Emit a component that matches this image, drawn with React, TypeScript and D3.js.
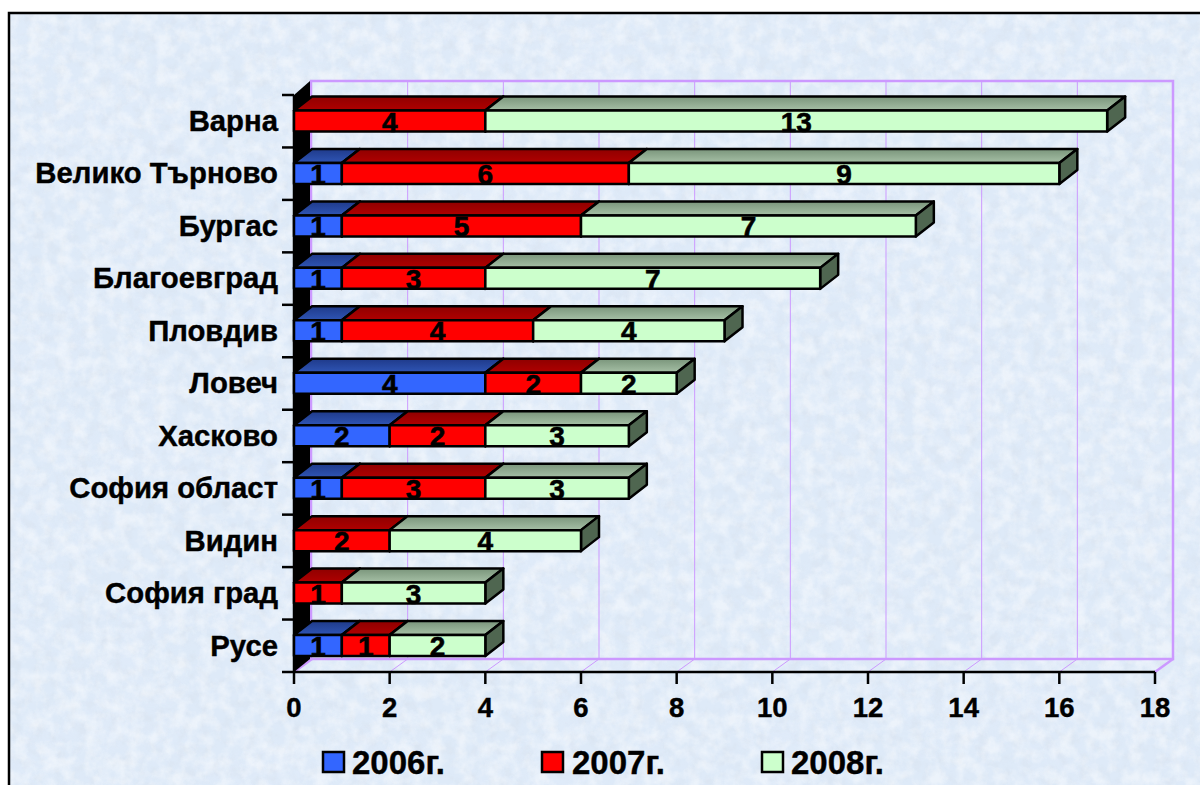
import React from "react";
import * as d3 from "d3";

const categories = ["Варна","Велико Търново","Бургас","Благоевград","Пловдив","Ловеч","Хасково","София област","Видин","София град","Русе"];
const years = ["2006г.","2007г.","2008г."];
const values2006 = [0,1,1,1,1,4,2,1,0,0,1];
const values2007 = [4,6,5,3,4,2,2,3,2,1,1];
const values2008 = [13,9,7,7,4,2,3,3,4,3,2];
const xTicks = [0,2,4,6,8,10,12,14,16,18];
const seriesValues = [values2006, values2007, values2008];
const frontColors = ["#3366ff","#ff0000","#ccffcc"];
const topColors = [["#1f3a8a","#2f55b5"],["#8f0000","#b00000"],["#7a957b","#a6c0a6"]];
const sideColors = ["#1d3480","#8a0000","#4f6650"];
const legendX = [323,542,762];
const legendTextX = [352,572,791];

const W = 1200, H = 785;
const dx = 18, dy = 14;
const x = d3.scaleLinear().domain([0,18]).range([294,1155]);
const y = d3.scaleBand<string>().domain(categories).range([95,672]).padding(0);
const font = "'Liberation Sans', Arial, sans-serif";
const wall = "#cc99ff";

const rows = categories.map((c,i)=>({c, a:values2006[i], b:values2007[i], d:values2008[i]}));
const stacked = d3.stack<any>().keys(["a","b","d"])(rows);

function App(){
  const barH = 21, off = 15.5;
  return (
    <svg width={W} height={H} viewBox={`0 0 ${W} ${H}`} style={{position:"absolute",left:0,top:0,display:"block"}}>
      <defs>
        <filter id="blotch" x="0" y="0" width="100%" height="100%">
          <feTurbulence type="fractalNoise" baseFrequency="0.012" numOctaves="4" seed="11"/>
          <feColorMatrix type="matrix" values="0 0 0 0 0.76  0 0 0 0 0.84  0 0 0 0 0.96  1.8 0 0 0 -0.7"/>
        </filter>
        <filter id="speck" x="0" y="0" width="100%" height="100%">
          <feTurbulence type="fractalNoise" baseFrequency="0.07" numOctaves="4" seed="5"/>
          <feColorMatrix type="matrix" values="0 0 0 0 1  0 0 0 0 1  0 0 0 0 1  0 2.4 0 0 -0.9"/>
        </filter>
        <filter id="grey" x="0" y="0" width="100%" height="100%">
          <feTurbulence type="fractalNoise" baseFrequency="0.09" numOctaves="3" seed="21"/>
          <feColorMatrix type="matrix" values="0 0 0 0 0.68  0 0 0 0 0.74  0 0 0 0 0.82  0 0 2 0 -0.9"/>
        </filter>
        {topColors.map((t,i)=>(
          <linearGradient key={i} id={`top${i}`} x1="0" y1="0" x2="0" y2="1">
            <stop offset="0" stopColor={t[0]}/>
            <stop offset="1" stopColor={t[1]}/>
          </linearGradient>
        ))}
      </defs>
      <rect width={W} height={H} fill="#ffffff"/>
      <rect x={9} y={13} width={W} height={H} fill="#deeaf8"/>
      <rect x={9} y={13} width={W} height={H} filter="url(#blotch)" opacity={0.5}/>
      <rect x={9} y={13} width={W} height={H} filter="url(#grey)" opacity={0.5}/>
      <rect x={9} y={13} width={W} height={H} filter="url(#speck)" opacity={0.45}/>
      <path d={`M9,${H}V13H${W}`} fill="none" stroke="#000" strokeWidth={2.5}/>

      {/* back wall */}
      <rect x={x(0)+dx-1} y={81} width={x(18)-x(0)+1} height={578} fill="none" stroke={wall} strokeWidth={2.5}/>
      {xTicks.slice(1,-1).map(t=>(
        <line key={t} x1={x(t)+dx} x2={x(t)+dx} y1={81} y2={659} stroke={wall} strokeWidth={1}/>
      ))}
      {xTicks.map(t=>(
        <line key={t} x1={x(t)} x2={x(t)+dx} y1={672} y2={659} stroke={wall} strokeWidth={t===18||t===0?2.5:1}/>
      ))}
      {/* left wall */}
      <polygon points={`${x(0)},95 ${x(0)+dx-2},81 ${x(0)+dx-2},659 ${x(0)},672`} fill="#000"/>

      {/* axes */}
      <line x1={x(0)} x2={x(18)} y1={672} y2={672} stroke="#000" strokeWidth={2.5}/>
      <line x1={x(0)} x2={x(0)} y1={95} y2={672} stroke="#000" strokeWidth={2.5}/>
      {d3.range(categories.length+1).map(i=>{
        const yy = 95 + i*y.step();
        return <line key={i} x1={282} x2={x(0)} y1={yy} y2={yy} stroke="#000" strokeWidth={2.5}/>;
      })}
      {xTicks.map(t=>(
        <g key={t}>
          <line x1={x(t)} x2={x(t)} y1={672} y2={684} stroke="#000" strokeWidth={2.5}/>
          <text x={x(t)} y={717} textAnchor="middle" fontFamily={font} fontWeight="bold" fontSize={27.5} stroke="#000" strokeWidth={0.4}>{t}</text>
        </g>
      ))}
      {categories.map(c=>(
        <text key={c} x={278} y={y(c)!+off+barH/2+10} textAnchor="end" fontFamily={font} fontWeight="bold" fontSize={29.3} stroke="#000" strokeWidth={0.4}>{c}</text>
      ))}

      {/* bars */}
      {categories.map((c,i)=>{
        const top = y(c)!+off;
        return (
          <g key={c}>
            {stacked.map((s,k)=>{
              const v = seriesValues[k][i];
              if(!v) return null;
              const x0 = x(s[i][0]), x1 = x(s[i][1]);
              return (
                <g key={k} stroke="#000" strokeWidth={2.5} strokeLinejoin="round">
                  <polygon points={`${x0},${top} ${x0+dx},${top-dy} ${x1+dx},${top-dy} ${x1},${top}`} fill={`url(#top${k})`}/>
                  <polygon points={`${x1},${top} ${x1+dx},${top-dy} ${x1+dx},${top+barH-dy} ${x1},${top+barH}`} fill={sideColors[k]}/>
                  <rect x={x0} y={top} width={x1-x0} height={barH} fill={frontColors[k]}/>
                </g>
              );
            })}
            {stacked.map((s,k)=>{
              const v = seriesValues[k][i];
              if(!v) return null;
              return <text key={k} x={(x(s[i][0])+x(s[i][1]))/2} y={top+barH/2+10.5} textAnchor="middle" fontFamily={font} fontWeight="bold" fontSize={28} stroke="#000" strokeWidth={0.6}>{v}</text>;
            })}
          </g>
        );
      })}

      {/* legend */}
      {years.map((n,k)=>(
        <g key={n}>
          <rect x={legendX[k]} y={752} width={21} height={20} fill={frontColors[k]} stroke="#000" strokeWidth={2.5}/>
          <text x={legendTextX[k]} y={774} fontFamily={font} fontWeight="bold" fontSize={33} stroke="#000" strokeWidth={0.4}>{n}</text>
        </g>
      ))}
    </svg>
  );
}
export default App;
